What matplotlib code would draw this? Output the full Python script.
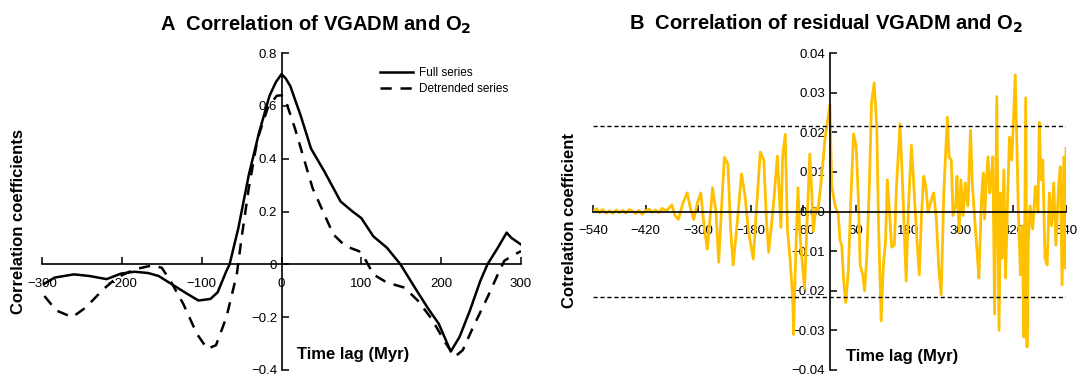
import numpy as np
import matplotlib
matplotlib.use("Agg")
import matplotlib.pyplot as plt

plt.rcParams['font.family'] = ['Liberation Sans', 'DejaVu Sans']

# ------------------- panel A data -------------------
full_t = [-297, -284, -260, -241, -219, -201, -184, -167, -154, -136, -119, -104, -89, -80, -69,
          -65, -54, -41, -28, -15, -7, 0, 5, 11, 24, 37, 54, 74, 89, 100, 115, 132, 149, 167, 184,
          197, 212, 223, 236, 249, 258, 271, 282, 288, 300]
full_v = [-0.073, -0.05, -0.038, -0.044, -0.056, -0.035, -0.028, -0.033, -0.044, -0.078, -0.11,
          -0.137, -0.131, -0.106, -0.025, 0.0, 0.138, 0.338, 0.5, 0.638, 0.69, 0.72, 0.705, 0.675,
          0.563, 0.438, 0.35, 0.238, 0.2, 0.175, 0.106, 0.063, 0.0, -0.088, -0.169, -0.225, -0.33,
          -0.275, -0.175, -0.063, 0.0, 0.063, 0.12, 0.1, 0.075]

detr_t = [-297, -282, -262, -245, -223, -206, -184, -162, -150, -139, -123, -106, -93, -82, -69,
          -56, -50, -41, -30, -17, -6, 0, 6, 17, 28, 39, 52, 65, 80, 97, 106, 115, 132, 154, 171,
          188, 206, 217, 227, 240, 258, 271, 279, 288, 300]
detr_v = [-0.12, -0.175, -0.2, -0.163, -0.094, -0.05, -0.019, -0.004, -0.013, -0.063, -0.15,
          -0.263, -0.32, -0.306, -0.2, -0.038, 0.1, 0.288, 0.475, 0.594, 0.638, 0.64, 0.613, 0.513,
          0.4, 0.288, 0.2, 0.113, 0.069, 0.05, 0.013, -0.038, -0.069, -0.088, -0.138, -0.206, -0.3,
          -0.35, -0.325, -0.238, -0.125, -0.038, 0.013, 0.031, 0.05]

a_xticks = [-300, -200, -100, 0, 100, 200, 300]
a_yticks = [-0.4, -0.2, 0, 0.2, 0.4, 0.6, 0.8]
a_ylabels = ['\u22120.4', '\u22120.2', '0', '0.2', '0.4', '0.6', '0.8']

# ------------------- panel B data (residual correlation, negative lags) -------------------
neg_t = [-540, -532, -525, -518, -510, -502, -495, -487, -480, -472,
         -465, -457, -450, -442, -435, -428, -420, -412, -405, -397,
         -390, -382, -375, -368, -360, -353, -345, -335, -325, -318,
         -310, -302, -294, -286, -279, -273, -267, -259, -253, -246,
         -240, -232, -226, -220, -210, -201, -193, -185, -174, -166,
         -158, -150, -144, -139, -133, -127, -119, -111, -107, -101,
         -96, -90, -84, -82, -79, -76, -72, -68, -61, -57,
         -51, -45, -41, -37, -31, -26, -18, -10]
neg_v = [0.0, 0.0007, -0.0003, 0.0005, -0.0004, 0.0002, -0.0005, 0.0004, -0.0003, 0.0003,
         -0.0004, 0.0005, 0.0001, -0.0005, 0.0003, -0.0007, 0.0002, 0.0006, -0.0002, 0.0004,
         -0.0003, 0.0008, 0.0002, 0.0006, 0.0017, -0.001, -0.002, 0.002, 0.0047, 0.001,
         -0.002, 0.002, 0.0047, -0.004, -0.0095, -0.002, 0.006, -0.0004, -0.0128, 0.002,
         0.0137, 0.012, -0.004, -0.0135, -0.002, 0.0095, 0.004, -0.005, -0.012, 0.002,
         0.015, 0.013, -0.002, -0.0103, -0.004, 0.003, 0.014, -0.004, 0.014, 0.0195,
         -0.0045, -0.012, -0.022, -0.031, -0.018, -0.007, 0.006, -0.005, -0.0145, -0.0194,
         -0.002, 0.0145, 0.006, -0.005, 0.001, 0.0004, 0.0087, 0.0186]

# positive lags
pos_t = [1, 5, 13, 20, 24, 28, 32, 37, 43, 49,
         55, 61, 66, 70, 76, 80, 85, 91, 96, 102,
         108, 112, 118, 123, 128, 132, 137, 142, 148, 153,
         161, 167, 175, 180, 187, 193, 199, 205, 210, 215,
         220, 225, 233, 238, 244, 250, 255, 261, 266, 269,
         273, 278, 282, 288, 291, 296, 300, 305, 310, 316,
         322, 326, 332, 337, 341, 347, 351, 354, 358, 362,
         366, 370, 373, 377, 382, 387, 391, 394, 398, 402,
         407, 411, 416, 420, 424, 428, 431, 436, 440, 444,
         448, 451, 454, 458, 464, 470, 476, 479, 483, 487,
         492, 497, 502, 507, 512, 517, 523, 527, 531, 535,
         538, 540]
pos_v = [0.027, 0.0064, 0.0014, -0.0007, -0.0073, -0.0085, -0.017, -0.023, -0.015, 0.004,
         0.0196, 0.0163, 0.003, -0.0135, -0.016, -0.020, -0.0118, 0.0064, 0.0275, 0.0325,
         0.021, -0.0036, -0.0276, -0.0135, -0.0073, 0.008, -0.0002, -0.009, -0.0085, 0.0064,
         0.0221, 0.0064, -0.0176, 0.0006, 0.0167, 0.0056, -0.006, -0.016, -0.001, 0.0089,
         0.0064, -0.0002, 0.0031, 0.0047, -0.0019, -0.0152, -0.021, 0.0047, 0.0163, 0.0238,
         0.0138, 0.013, -0.001, 0.0014, 0.0089, -0.0052, 0.008, -0.001, 0.0072, 0.0014,
         0.0205, 0.0072, -0.0027, -0.0102, -0.0168, 0.0031, 0.0097, -0.0019, 0.0072, 0.0138,
         0.0047, 0.0089, 0.0138, -0.0259, 0.029, -0.030, 0.0047, -0.0118, 0.0105, -0.0168,
         0.0047, 0.0188, 0.013, 0.023, 0.0345, 0.0163, 0.0006, -0.016, -0.0036, -0.0317,
         0.0287, -0.0342, -0.0077, 0.0014, -0.0044, 0.0064, -0.0002, 0.0225, 0.008, 0.013,
         -0.0118, -0.0135, 0.0047, -0.0036, 0.0072, -0.0085, 0.0064, 0.0113, -0.0185, 0.0138,
         -0.0143, 0.0159]

b_xticks = [-540, -420, -300, -180, -60, 60, 180, 300, 420, 540]
b_yticks = [-0.04, -0.03, -0.02, -0.01, 0.0, 0.01, 0.02, 0.03, 0.04]
b_ylabels = ['\u22120.04', '\u22120.03', '\u22120.02', '\u22120.01', '0.00', '0.01', '0.02', '0.03', '0.04']
sig_level = 0.0215

W, H = 1082, 379
fig = plt.figure(figsize=(W / 100, H / 100), dpi=100)


def px_axes(x0, x1, y0, y1):
    return fig.add_axes([x0 / W, 1 - y1 / H, (x1 - x0) / W, (y1 - y0) / H])


def style_axes(ax):
    for s in ('top', 'right'):
        ax.spines[s].set_visible(False)
    ax.spines['left'].set_position(('data', 0))
    ax.spines['bottom'].set_position(('data', 0))
    for s in ('left', 'bottom'):
        ax.spines[s].set_linewidth(1.2)
    ax.tick_params(direction='in', length=5, width=1.1, labelsize=9.5, pad=3)
    ax.tick_params(axis='x', pad=10)
    ax.patch.set_alpha(0)


# ------------------- panel A -------------------
axA = px_axes(42, 521, 53, 370)
axA.plot(full_t, full_v, color='black', lw=1.8, label='Full series')
axA.plot(detr_t, detr_v, color='black', lw=1.8, ls=(0, (4.5, 3.5)), label='Detrended series')
axA.set_xlim(-300, 300)
axA.set_ylim(-0.4, 0.8)
axA.set_xticks(a_xticks)
axA.set_xticklabels([str(v).replace('-', '\u2212') for v in a_xticks])
axA.set_yticks(a_yticks)
axA.set_yticklabels(a_ylabels)
style_axes(axA)
axA.legend(loc='upper left', bbox_to_anchor=(0.695, 0.97), frameon=False, fontsize=8.5,
           handlelength=2.8, handletextpad=0.5, labelspacing=0.35, borderaxespad=0)

fig.text(316, 354, 'A  Correlation of VGADM and O$_\\mathbf{2}$', transform=None, fontsize=14.5,
         fontweight='bold', ha='center', va='center')
fig.text(19, 157, 'Correlation coefficients', transform=None, fontsize=12, fontweight='bold',
         rotation=90, ha='center', va='center')
fig.text(297, 25, 'Time lag (Myr)', transform=None, fontsize=12, fontweight='bold',
         ha='left', va='center')

# ------------------- panel B -------------------
axB = px_axes(593, 1066, 53, 370)
axB.plot(neg_t + pos_t, neg_v + pos_v, color='#FFC000', lw=2.0)
axB.axhline(sig_level, color='black', lw=1.0, ls=(0, (3, 2)))
axB.axhline(-sig_level, color='black', lw=1.0, ls=(0, (3, 2)))
axB.set_xlim(-540, 540)
axB.set_ylim(-0.04, 0.04)
axB.set_xticks(b_xticks)
axB.set_xticklabels([str(v).replace('-', '\u2212') for v in b_xticks])
axB.set_yticks(b_yticks)
axB.set_yticklabels(b_ylabels)
style_axes(axB)

fig.text(826, 355, 'B  Correlation of residual VGADM and O$_\\mathbf{2}$', transform=None,
         fontsize=14.5, fontweight='bold', ha='center', va='center')
fig.text(570, 159, 'Cotrelation coefficient', transform=None, fontsize=12, fontweight='bold',
         rotation=90, ha='center', va='center')
fig.text(846, 23, 'Time lag (Myr)', transform=None, fontsize=12, fontweight='bold',
         ha='left', va='center')

fig.savefig('out.png', dpi=100)
